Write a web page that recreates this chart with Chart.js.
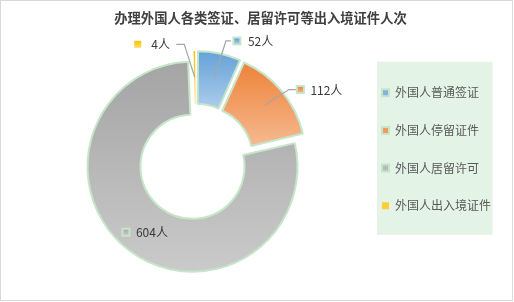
<!DOCTYPE html>
<html>
<head>
<meta charset="utf-8">
<script src="https://cdn.jsdelivr.net/npm/chart.js@4/dist/chart.umd.min.js"></script>
<style>
body { margin: 0; background: #fff; }
canvas { display: block; }
</style>
</head>
<body>
<canvas id="chart" width="514" height="302"></canvas>
<script>
var title = '办理外国人各类签证、居留许可等出入境证件人次';
var categories = ['外国人普通签证', '外国人停留证件', '外国人居留许可', '外国人出入境证件'];
var values = [52, 112, 604, 4];
var unit = '人';

var topColors = ['#5b9bd5', '#ed7d31', '#a5a5a5', '#ffc000'];
var bottomColors = ['#a9cbea', '#f5b78c', '#cbcbcb', '#ffdb70'];
var flatColors = ['#82b3e0', '#f19c5f', '#b9b9b9', '#ffcd3a'];
var edge = '#c6e6c9';
var font = '"Noto Sans CJK SC", "Noto Sans", sans-serif';

// value labels sit next to the middle of their slice
var labelSpots = [
    {dy: -36, box: 22.5, text: 33.5, line: [[11.5, -36], [16.5, -36]]},
    {dy: -15.5, box: 35.5, text: 45.5, line: [[24, -15.5], [31, -15.5]]},
    {dy: 3, box: -19, text: -9, line: null},
    {dy: -33, box: -57, text: -43.5, line: [[-10.5, -33], [-18.5, -33]]}
];

function sliceGradient(ctx, arc, i) {
    var shift = (arc.options.offset || 0) / 4;
    var half = (arc.startAngle + arc.endAngle) / 2;
    var cy = arc.y + Math.sin(half) * shift;
    var minY = Infinity, maxY = -Infinity;
    for (var k = 0; k <= 40; k++) {
        var a = arc.startAngle + (arc.endAngle - arc.startAngle) * k / 40;
        [arc.innerRadius, arc.outerRadius + shift].forEach(function (r) {
            var y = cy + Math.sin(a) * r;
            minY = Math.min(minY, y);
            maxY = Math.max(maxY, y);
        });
    }
    var g = ctx.createLinearGradient(0, minY, 0, maxY);
    g.addColorStop(0, topColors[i]);
    g.addColorStop(1, bottomColors[i]);
    return g;
}

var decor = {
    id: 'decor',
    beforeDraw: function (chart) {
        var ctx = chart.ctx;
        ctx.save();
        ctx.fillStyle = '#fff';
        ctx.fillRect(0, 0, chart.width, chart.height);
        var boxes = chart.legend.legendHitBoxes;
        if (boxes && boxes.length) {
            var first = boxes[0], last = boxes[boxes.length - 1];
            var left = Math.min.apply(null, boxes.map(function (b) { return b.left; })) - 5;
            var right = Math.max.apply(null, boxes.map(function (b) { return b.left + b.width; })) + 1.5;
            ctx.fillStyle = '#e3f3e5';
            ctx.fillRect(left, first.top - 25, right - left, last.top + last.height + 23 - (first.top - 25));
        }
        ctx.restore();
    },
    beforeDatasetsDraw: function (chart) {
        var meta = chart.getDatasetMeta(0);
        meta.data.forEach(function (arc, i) {
            // chart.js grows narrow exploded slices less than wide ones; even them out
            if (!arc.evened) {
                var shift = (arc.options.offset || 0) / 4;
                var fix = 1 - Math.sin(Math.min(Math.PI, arc.circumference));
                arc.outerRadius += shift * (1 - fix);
                arc.innerRadius += shift * (1 - fix);
                arc.evened = true;
            }
            arc.options.backgroundColor = sliceGradient(chart.ctx, arc, i);
        });
    },
    afterDraw: function (chart) {
        var ctx = chart.ctx;
        var meta = chart.getDatasetMeta(0);
        ctx.save();
        // value labels
        meta.data.forEach(function (arc, i) {
            var c = arc.getCenterPoint();
            var s = labelSpots[i];
            var rowY = c.y + s.dy;
            if (s.line) {
                ctx.beginPath();
                ctx.moveTo(c.x, c.y);
                s.line.forEach(function (p) { ctx.lineTo(c.x + p[0], c.y + p[1]); });
                ctx.strokeStyle = '#a6a6a6';
                ctx.lineWidth = 1.2;
                ctx.stroke();
            }
            var bx = c.x + s.box;
            var g = ctx.createLinearGradient(0, rowY - 3.5, 0, rowY + 3.5);
            g.addColorStop(0, topColors[i]);
            g.addColorStop(1, bottomColors[i]);
            ctx.fillStyle = g;
            ctx.fillRect(bx - 3.5, rowY - 3.5, 7, 7);
            if (i < 3) {
                ctx.strokeStyle = edge;
                ctx.lineWidth = 2;
                ctx.strokeRect(bx - 3.5, rowY - 3.5, 7, 7);
            }
            ctx.fillStyle = '#3a3a3a';
            ctx.font = '12px ' + font;
            ctx.textAlign = 'left';
            ctx.textBaseline = 'middle';
            ctx.fillText(values[i] + unit, c.x + s.text, rowY + 0.5);
        });
        // title
        ctx.fillStyle = '#404040';
        ctx.font = 'bold 13.3px ' + font;
        ctx.textAlign = 'center';
        ctx.textBaseline = 'middle';
        ctx.fillText(title, 260.5, 17.5);
        // frame
        ctx.strokeStyle = '#d9d9d9';
        ctx.lineWidth = 1;
        ctx.strokeRect(0.5, 0.5, chart.width - 2, chart.height - 2);
        ctx.restore();
    }
};

var chart = new Chart(document.getElementById('chart'), {
    type: 'doughnut',
    data: {
        labels: categories,
        datasets: [{
            data: values,
            backgroundColor: flatColors,
            borderColor: edge,
            borderWidth: [2, 2, 2, 0],
            offset: 24
        }]
    },
    options: {
        responsive: false,
        animation: false,
        radius: 99,
        cutout: '46.5%',
        layout: {padding: {top: 61, bottom: 39, left: 36, right: 13}},
        plugins: {
            title: {display: false},
            tooltip: {enabled: false},
            legend: {
                position: 'right',
                align: 'start',
                labels: {
                    boxWidth: 7,
                    boxHeight: 7,
                    padding: 25.7,
                    color: '#595959',
                    font: {size: 12, family: font}
                }
            }
        }
    },
    plugins: [decor]
});
</script>
</body>
</html>
